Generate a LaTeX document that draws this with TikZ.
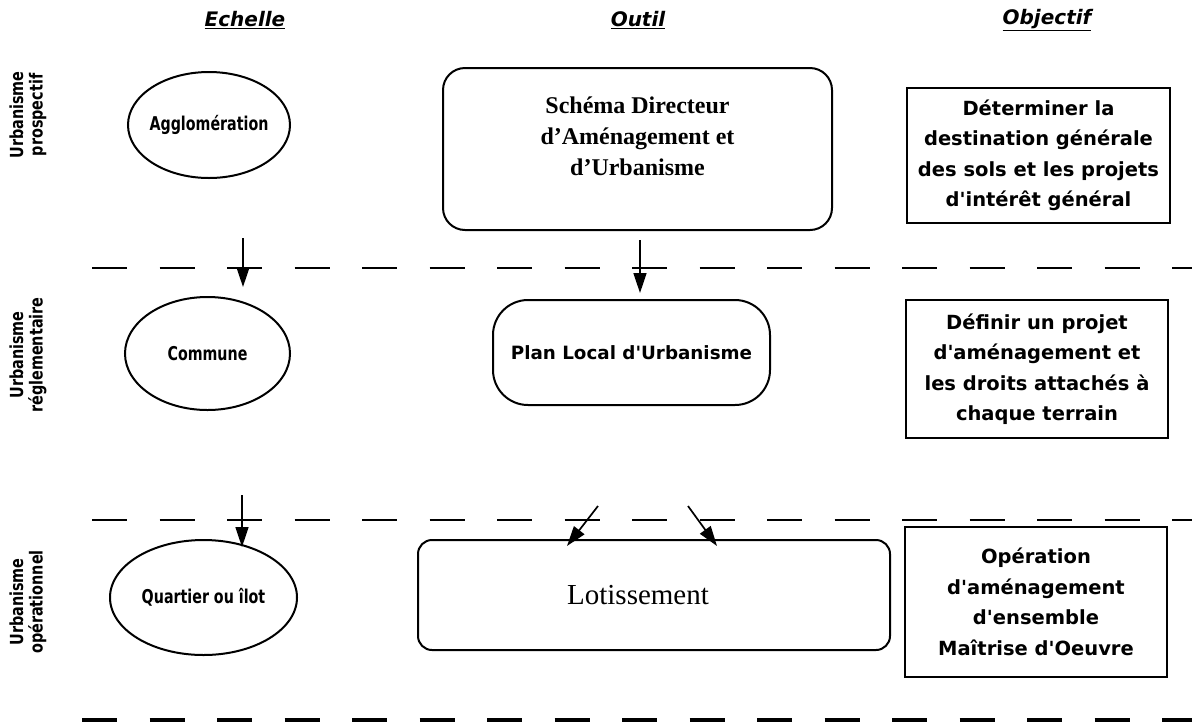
\documentclass[tikz,border=0pt]{standalone}
\usepackage{fontspec}
\usepackage{graphicx}
\setmainfont{Liberation Serif}
\newfontfamily\dvs{DejaVu Sans}
\newcommand\cnd[2][0.85]{\scalebox{#1}[1]{#2}}
\usetikzlibrary{shapes.geometric,arrows.meta}
\tikzset{
  ell/.style={ellipse, draw, line width=2pt, inner sep=0pt, font=\dvs\bfseries\fontsize{19}{20}\selectfont},
  tool/.style={draw, line width=2pt, align=center, inner sep=0pt},
  obj/.style={draw, line width=2pt, align=center, inner sep=0pt, font=\dvs\bfseries\fontsize{19.5}{30.5}\selectfont},
  hdr/.style={font=\dvs\bfseries\itshape\fontsize{20}{22}\selectfont},
  side/.style={rotate=90, align=center, font=\dvs\bfseries\fontsize{18}{19.5}\selectfont},
  sep/.style={line width=2.6pt, dash pattern=on 35pt off 32.5pt},
  sepb/.style={line width=4.5pt, dash pattern=on 35pt off 32.5pt},
  arr/.style={line width=1.7pt, -{Triangle[length=20pt,width=13pt]}}
}
\begin{document}
\begin{tikzpicture}[x=1pt,y=-1pt]
\useasboundingbox (0,0) rectangle (1192,724);
% headers
\node[hdr] (h1) at (245,20) {\underline{Echelle}};
\node[hdr] (h2) at (638,20) {\underline{Outil}};
\node[hdr] (h3) at (1047,20) {\underline{Objectif}};
% side labels
\node[side] (s1) at (28,115) {\cnd[0.8]{Urbanisme}\\\cnd[0.8]{prospectif}};
\node[side] (s2) at (28,355) {\cnd[0.8]{Urbanisme}\\\cnd[0.8]{réglementaire}};
\node[side] (s3) at (28,602) {\cnd[0.8]{Urbanisme}\\\cnd[0.8]{opérationnel}};
% ellipses
\node[ell, minimum width=162pt, minimum height=106pt] (e1) at (209,125)
  {\makebox[0pt]{\cnd[0.75]{Agglomération}}};
\node[ell, minimum width=165pt, minimum height=113pt] (e2) at (207.5,353.5)
  {\makebox[0pt]{\cnd[0.75]{Commune}}};
\node[ell, minimum width=187pt, minimum height=115pt] (e3) at (203.5,597.5)
  {\makebox[0pt]{\cnd[0.75]{Quartier ou îlot}}};
% tools
\node[tool, rounded corners=22pt, minimum width=389pt, minimum height=162pt,
      label={[align=center, yshift=13pt, font=\bfseries\fontsize{24}{31}\selectfont]center:{Schéma Directeur\\d’Aménagement et\\d’Urbanisme}}]
      (t1) at (637.5,149) {};
\node[tool, rounded corners=35pt, minimum width=277pt, minimum height=105pt,
      font=\dvs\bfseries\fontsize{18.3}{20}\selectfont] (t2) at (631.5,352.5)
      {Plan Local d'Urbanisme};
\node[tool, rounded corners=14pt, minimum width=472pt, minimum height=110pt,
      label={[xshift=-16pt, font=\fontsize{29}{30}\selectfont]center:Lotissement}]
      (t3) at (654,595) {};
% objectives
\node[obj, minimum width=263pt, minimum height=135pt] (o1) at (1038.5,155.5)
  {Déterminer la\\destination générale\\des sols et les projets\\d'intérêt général};
\node[obj, minimum width=262pt, minimum height=138pt] (o2) at (1037,369)
  {Définir un projet\\d'aménagement et\\les droits attachés à\\chaque terrain};
\node[obj, minimum width=262pt, minimum height=150pt] (o3) at (1036,602)
  {Opération\\d'aménagement\\d'ensemble\\Maîtrise d'Oeuvre};
% separators
\coordinate (l1a) at (92,268); \coordinate (l1b) at (1192,268);
\coordinate (l2a) at (92,520); \coordinate (l2b) at (1192,520);
\coordinate (l3a) at (82,720); \coordinate (l3b) at (1192,720);
\draw[sep] (l1a) -- (l1b);
\draw[sep] (l2a) -- (l2b);
\draw[sepb] (l3a) -- (l3b);
% arrows
\coordinate (a1s) at (243,238); \coordinate (a1e) at (243,287);
\coordinate (a2s) at (640,240); \coordinate (a2e) at (640,293);
\coordinate (a3s) at (242,495); \coordinate (a3e) at (242,547);
\coordinate (a4s) at (598,506); \coordinate (a4e) at (567,546);
\coordinate (a5s) at (688,506); \coordinate (a5e) at (717,546);
\draw[arr] (a1s) -- (a1e);
\draw[arr] (a2s) -- (a2e);
\draw[arr] (a3s) -- (a3e);
\draw[arr] (a4s) -- (a4e);
\draw[arr] (a5s) -- (a5e);
\end{tikzpicture}
\end{document}
